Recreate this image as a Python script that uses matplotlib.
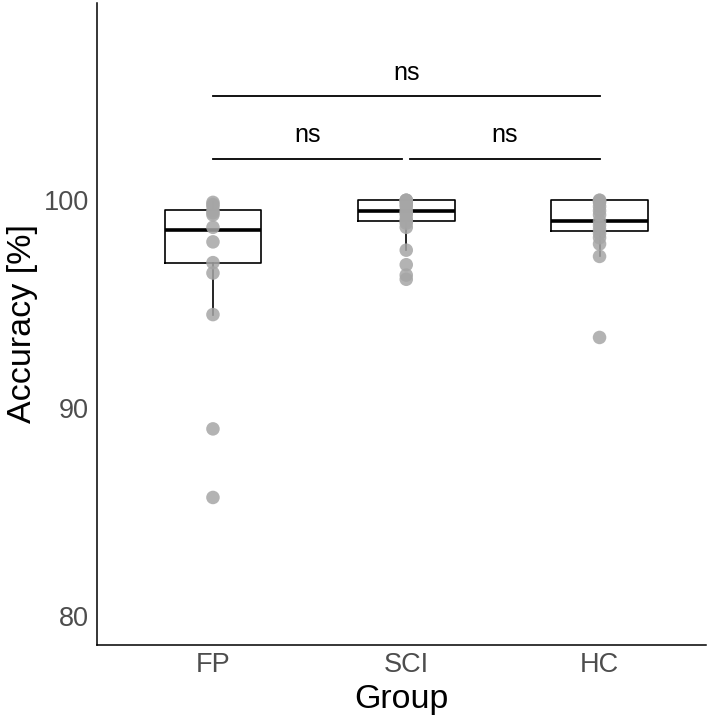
import numpy as np
import matplotlib
matplotlib.use('Agg')
import matplotlib.pyplot as plt

plt.rcParams['font.family'] = ['Liberation Sans', 'DejaVu Sans']

groups = ['FP', 'SCI', 'HC']

# accuracy per participant
fp_points = [99.9, 99.8, 99.7, 99.5, 99.4, 99.3, 98.7, 98.0, 97.0, 96.5, 94.5, 89.0, 85.7]
sci_points = [100.0, 100.0, 100.0, 99.9, 99.8, 99.7, 99.5, 99.4, 99.3, 99.1, 99.0, 98.9, 98.7,
              97.6, 96.9, 96.4, 96.2]
hc_points = [100.0, 100.0, 99.9, 99.7, 99.5, 99.3, 99.0, 98.8, 98.6, 98.4, 98.2, 97.9, 97.3, 93.4]

# box summaries (lower whisker, q1, median, q3, upper whisker)
whisker_low = [94.5, 97.6, 97.3]
q1 = [97.0, 99.0, 98.5]
median = [98.56, 99.47, 99.0]
q3 = [99.52, 100.0, 100.0]
whisker_high = [99.9, 100.0, 100.0]

# significance brackets: (from group, to group, height, label)
comparisons = [(1, 1.98, 102.0, 'ns'), (2.02, 3, 102.0, 'ns'), (1, 3, 105.0, 'ns')]

fig = plt.figure(figsize=(7.21, 7.21), dpi=100)
ax = fig.add_axes([0.1345, 0.1054, 0.979 - 0.1345, 0.996 - 0.1054])

stats = []
for i in range(len(groups)):
    stats.append({'whislo': whisker_low[i], 'q1': q1[i], 'med': median[i],
                  'q3': q3[i], 'whishi': whisker_high[i], 'fliers': []})

ax.bxp(stats, positions=[1, 2, 3], widths=0.5, showcaps=False, showfliers=False,
       boxprops=dict(color='black', linewidth=1.2),
       whiskerprops=dict(color='black', linewidth=1.2),
       medianprops=dict(color='black', linewidth=2.6),
       zorder=2)

for i, pts in enumerate([fp_points, sci_points, hc_points]):
    ax.scatter(np.full(len(pts), i + 1), pts, s=95, color='#a6a6a6', alpha=0.85,
               edgecolors='none', zorder=3)

for x0, x1, y, lab in comparisons:
    ax.plot([x0, x1], [y, y], color='black', linewidth=1.3, zorder=4)
    ax.text((x0 + x1) / 2, y + 0.55, lab, ha='center', va='bottom', fontsize=18)

ax.set_xlim(0.4, 3.55)
ax.set_ylim(78.6, 109.5)
ax.set_yticks([80, 90, 100])
ax.set_xticks([1, 2, 3])
ax.set_xticklabels(groups)
ax.tick_params(length=0, labelsize=19.5, labelcolor='#4d4d4d')
ax.tick_params(axis='y', pad=6)
ax.tick_params(axis='x', pad=5)

for side in ['top', 'right']:
    ax.spines[side].set_visible(False)
for side in ['left', 'bottom']:
    ax.spines[side].set_linewidth(1.1)

ax.set_xlabel('Group', fontsize=24.5, labelpad=4)
ax.set_ylabel('Accuracy [%]', fontsize=24.5, labelpad=4)

fig.savefig('out.png', dpi=100)
